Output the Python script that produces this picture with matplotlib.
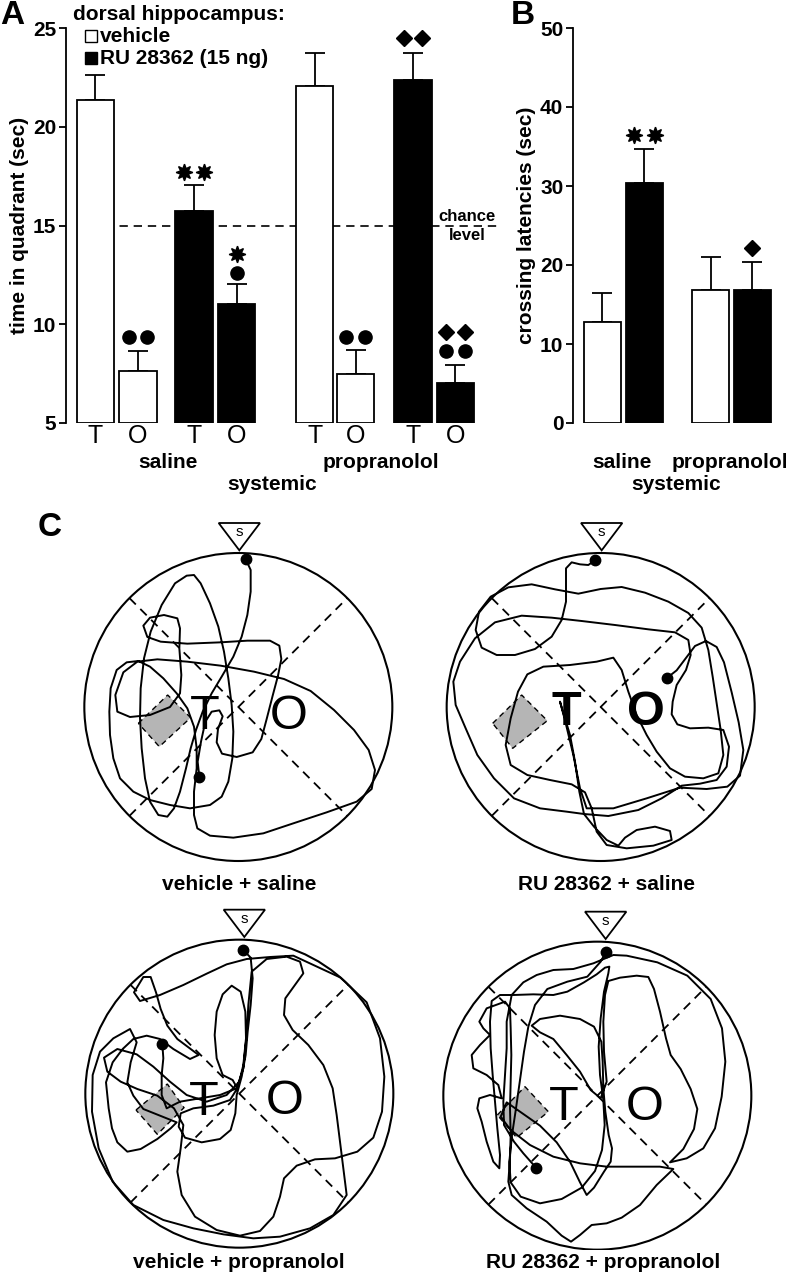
import matplotlib
matplotlib.use("Agg")
import matplotlib.pyplot as plt
from matplotlib.patches import Rectangle, Polygon, Circle

plt.rcParams['font.family'] = ['Liberation Sans', 'DejaVu Sans']

# ---------------- data ----------------
# Panel A : time in quadrant (sec)
a_ticklabels = ['T', 'O', 'T', 'O', 'T', 'O', 'T', 'O']
a_means = [21.35, 7.65, 15.75, 11.05, 22.05, 7.5, 22.35, 7.05]
a_sem = [1.25, 1.0, 1.3, 1.0, 1.7, 1.2, 1.4, 0.9]
a_group = ['vehicle', 'vehicle', 'RU', 'RU', 'vehicle', 'vehicle', 'RU', 'RU']
a_ticks = [5, 10, 15, 20, 25]
chance_level = 15

# Panel B : crossing latencies (sec)
b_means = [12.8, 30.4, 16.8, 16.8]
b_sem = [3.6, 4.3, 4.2, 3.6]
b_group = ['vehicle', 'RU', 'vehicle', 'RU']
b_ticks = [0, 10, 20, 30, 40, 50]

systemic = ['saline', 'propranolol']
panel_c_titles = ['vehicle + saline', 'RU 28362 + saline',
                  'vehicle + propranolol', 'RU 28362 + propranolol']

# swim paths (traced in local 3x-pixel coordinates of each circle box)
path_veh_sal = [(497,132),(512,165),(512,230),(502,300),(485,365),(460,425),(425,485),(395,535),(368,590),(348,645),
    (332,700),(318,760),(300,830),(282,880),(262,905),(235,900),(210,860),(195,790),(185,700),(180,610),(182,520),
    (192,430),(212,350),(245,270),(285,205),(320,182),(342,180),(362,205),(390,265),(415,335),(432,410),(445,490),
    (455,570),(460,650),(457,730),(445,800),(425,845),(390,870),(330,880),(270,870),(210,855),(160,830),(120,790),
    (100,730),(90,660),(88,590),(92,520),(110,465),(140,442),(175,438),(210,455),(250,490),(290,535),(322,580),
    (342,635),(350,700),(350,760),(342,830),(342,900),(352,940),(390,962),(460,968),(550,955),(640,925),(740,892),
    (830,860),(875,822),(885,765),(866,705),(822,645),(762,585),(692,528),(612,492),(522,470),(422,452),(322,440),
    (232,433),(172,440),(130,472),(106,540),(112,590),(150,606),(210,600),(270,576),(300,535),(304,480),(298,400),
    (300,340),(292,310),(252,300),(210,308),(190,332),(202,366),(242,380),(322,386),(422,382),(502,377),(570,377),
    (598,392),(604,432),(594,482),(578,542),(560,612),(544,672),(518,712),(470,726),(426,716),(410,682),(414,642),
    (428,604),(418,586),(395,590),(376,620),(363,680),(353,740),(358,785)]

path_ru_sal = [(466,135),(445,150),(420,148),(395,142),(378,160),(378,210),(378,260),(365,315),(335,365),(285,402),
    (225,420),(170,420),(125,398),(107,345),(117,290),(152,245),(205,217),(275,208),(345,223),(415,236),(482,222),
    (545,216),(615,233),(685,260),(745,294),(785,338),(805,405),(818,485),(830,565),(842,645),(850,720),(835,775),
    (790,790),(735,785),(690,760),(650,710),(620,660),(590,600),(565,530),(545,465),(520,428),(470,440),(390,450),
    (310,455),(262,478),(234,530),(212,610),(197,690),(212,750),(262,780),(330,795),(395,808),(435,832),(455,880),
    (470,950),(500,990),(560,1000),(640,992),(695,975),(690,948),(645,935),(590,945),(555,968),(535,992),(500,975),
    (462,935),(432,897),(380,890),(300,880),(222,850),(162,790),(112,720),(77,640),(47,570),(40,500),(60,440),
    (105,370),(165,322),(245,302),(335,308),(425,318),(525,330),(625,343),(705,352),(745,375),(752,420),(738,465),
    (710,510),(698,560),(695,598),(712,628),(750,640),(805,638),(850,645),(867,695),(860,755),(830,795),(780,806),
    (725,812),(665,850),(595,885),(505,903),(432,897),(418,830),(405,740),(390,660),(372,600),(360,560),(376,620),
    (400,720),(420,820),(440,880),(520,880),(620,850),(720,818),(800,822),(862,815),(900,782),(910,705),(896,622),
    (875,532),(852,442),(830,396),(798,378),(765,393),(737,430),(710,466),(682,488)]

path_veh_pro = [(490,165),(512,188),(518,250),(512,330),(503,410),(497,480),(485,545),(470,600),(466,655),(452,705),
    (420,732),(365,742),(315,728),(296,695),(302,655),(340,640),(400,632),(450,615),(472,580),(458,555),(428,540),
    (410,490),(404,420),(410,350),(428,298),(455,272),(482,290),(496,350),(498,430),(490,510),(478,560),(440,600),
    (380,620),(320,600),(270,560),(220,515),(170,478),(112,462),(72,488),(82,530),(122,560),(172,582),(232,602),
    (282,640),(310,690),(302,760),(292,830),(305,900),(345,965),(410,1005),(480,1022),(540,1008),(580,965),(600,905),
    (612,850),(650,812),(705,793),(765,790),(832,770),(880,728),(906,650),(913,545),(900,430),(860,322),(782,248),
    (692,206),(640,182),(570,186),(500,192),(440,208),(380,236),(310,270),(240,300),(180,318),(162,292),(190,246),
    (212,246),(228,292),(242,342),(262,392),(292,432),(332,462),(356,480),(330,492),(280,462),(240,432),(200,422),
    (160,432),(128,462),(98,502),(78,562),(86,640),(96,700),(112,742),(142,770),(182,762),(232,732),(272,700),
    (290,682),(240,662),(190,642),(160,602),(142,562),(152,502),(170,442),(150,402),(100,430),(60,470),(38,540),
    (36,650),(56,760),(98,860),(160,930),(250,975),(340,1000),(430,1018),(520,1030),(600,1025),(690,1000),
    (760,960),(800,900),(790,820),(780,740),(770,660),(758,580),(730,510),(685,450),(638,405),(612,360),(616,310),
    (645,270),(670,235),(660,200),(620,185),(560,192),(515,230),(505,330),(500,420),(490,520),(470,580),(420,600),
    (360,610),(300,620),(260,640),(245,600),(245,540),(250,490),(247,447)]

path_ru_pro = [(497,172),(482,200),(442,245),(382,260),(322,282),(285,330),(265,395),(252,470),(240,555),(228,640),
    (216,720),(208,800),(212,862),(242,905),(300,925),(365,912),(425,878),(465,828),(486,765),(494,690),(490,615),
    (480,540),(476,455),(482,370),(492,290),(505,235),(508,215),(495,218),(470,238),(432,262),(382,290),(340,300),
    (280,298),(220,300),(180,300),(155,318),(150,380),(152,460),(158,540),(165,620),(172,700),(180,780),(178,820),
    (160,800),(140,740),(125,680),(112,640),(118,610),(150,600),(185,610),(175,570),(140,540),(100,520),(95,480),
    (120,450),(150,420),(130,400),(118,380),(140,340),(195,320),(210,340),(212,400),(214,480),(212,560),(210,640),
    (212,720),(210,790),(205,860),(215,900),(260,940),(320,980),(365,1022),(393,1040),(420,1020),(455,990),
    (500,985),(545,968),(600,930),(650,870),(700,822),(660,815),(580,815),(500,815),(420,805),(340,785),(270,750),
    (212,705),(182,665),(200,622),(240,650),(300,692),(350,742),(390,800),(420,862),(440,900),(462,878),(492,830),
    (512,800),(516,760),(506,720),(496,650),(490,580),(488,500),(484,440),(462,395),(420,372),(360,362),(300,372),
    (275,392),(300,412),(340,432),(380,480),(420,530),(452,585),(482,610),(500,560),(492,470),(490,380),(495,300),
    (505,258),(540,248),(590,242),(625,246),(642,282),(660,350),(678,430),(692,480),(722,522),(752,582),(772,642),
    (762,702),(730,762),(690,802),(740,790),(790,760),(825,700),(845,605),(856,500),(846,400),(812,312),(742,242),
    (652,202),(560,182),(520,180),(460,205),(400,222),(340,225),(290,240),(250,262),(215,300),(200,380),(200,460),
    (195,540),(190,620),(192,690),(222,740),(250,775),(288,818)]

# ---------------- figure ----------------
W, H = 786, 1280
fig = plt.figure(figsize=(W / 100, H / 100), dpi=100)

def box(x0, y0, w, h):
    return [x0 / W, 1 - (y0 + h) / H, w / W, h / H]

# overlay for free text
ov = fig.add_axes([0, 0, 1, 1])
ov.set_xlim(0, W)
ov.set_ylim(H, 0)
ov.axis('off')

TXT = dict(fontsize=15, fontweight='bold')

# ---------------- Panel A ----------------
axA = fig.add_axes(box(66, 28, 410, 395))
a_pos = [0, 1, 2.32, 3.32, 5.16, 6.12, 7.47, 8.47]
bw = 0.88
a_colors = ['white' if g == 'vehicle' else 'black' for g in a_group]
axA.plot([-0.44, 9.45], [chance_level, chance_level], color='black', lw=1.2,
         ls=(0, (5, 3.5)), zorder=1, clip_on=False)
axA.bar(a_pos, [m - 5 for m in a_means], bottom=5, width=bw, color=a_colors,
        edgecolor='black', linewidth=1.3, zorder=3)
axA.errorbar(a_pos, a_means, yerr=[[0] * 8, a_sem], fmt='none', ecolor='black',
             elinewidth=1.3, capsize=7.5, capthick=1.3, zorder=2)
axA.set_xlim(-0.694, 8.953)
axA.set_ylim(5, 25)
axA.set_yticks(a_ticks)
axA.set_yticklabels([str(t) for t in a_ticks], fontsize=15, fontweight='bold')
axA.set_xticks(a_pos)
axA.set_xticklabels(a_ticklabels, fontsize=18)
axA.tick_params(axis='x', length=0, pad=1)
axA.tick_params(axis='y', length=5, width=1.3, direction='out', pad=2)
for s in ['top', 'right', 'bottom']:
    axA.spines[s].set_visible(False)
axA.spines['left'].set_linewidth(1.3)
axA.patch.set_alpha(0)
axA.set_ylabel('time in quadrant (sec)', fontsize=15, fontweight='bold', labelpad=3)
axA.text(8.74, chance_level + 0.1, 'chance', ha='center', va='bottom', fontsize=12,
         fontweight='bold')
axA.text(8.74, chance_level - 0.15, 'level', ha='center', va='top', fontsize=12,
         fontweight='bold')

def sig(ax, x, y, kind, n, dx):
    mk = {'circle': ('o', 9.5), 'diamond': ('D', 8.0), 'star': ((8, 1, 0), 12)}[kind]
    xs = [x] if n == 1 else [x - dx, x + dx]
    ax.plot(xs, [y] * len(xs), ls='none', marker=mk[0], ms=mk[1], color='black',
            clip_on=False, zorder=5)

sig(axA, a_pos[1], 9.33, 'circle', 2, 0.22)
sig(axA, a_pos[2], 17.7, 'star', 2, 0.235)
sig(axA, a_pos[3], 13.55, 'star', 1, 0)
sig(axA, a_pos[3], 12.57, 'circle', 1, 0)
sig(axA, a_pos[5], 9.33, 'circle', 2, 0.22)
sig(axA, a_pos[6], 24.5, 'diamond', 2, 0.22)
sig(axA, a_pos[7], 9.6, 'diamond', 2, 0.22)
sig(axA, a_pos[7], 8.63, 'circle', 2, 0.22)

ov.text(168, 462, systemic[0], ha='center', va='center', **TXT)
ov.text(381, 462, systemic[1], ha='center', va='center', **TXT)
ov.text(272, 484, 'systemic', ha='center', va='center', **TXT)

# legend
ov.text(73, 15, 'dorsal hippocampus:', ha='left', va='center', **TXT)
ov.add_patch(Rectangle((85, 30), 12, 12, facecolor='white', edgecolor='black', lw=1.0))
ov.add_patch(Rectangle((85, 52), 12, 12, facecolor='black', edgecolor='black', lw=1.0))
ov.text(100, 37, 'vehicle', ha='left', va='center', **TXT)
ov.text(100, 59, 'RU 28362 (15 ng)', ha='left', va='center', **TXT)

# panel letters
ov.text(12, 15, 'A', ha='center', va='center', fontsize=24, fontweight='heavy')
ov.text(523, 15, 'B', ha='center', va='center', fontsize=24, fontweight='heavy')
ov.text(50, 528, 'C', ha='center', va='center', fontsize=24, fontweight='heavy')

# ---------------- Panel B ----------------
axB = fig.add_axes(box(573, 28, 209, 395))
b_pos = [0, 1, 2.58, 3.57]
b_colors = ['white' if g == 'vehicle' else 'black' for g in b_group]
axB.bar(b_pos, b_means, width=bw, color=b_colors, edgecolor='black', linewidth=1.3, zorder=3)
axB.errorbar(b_pos, b_means, yerr=[[0] * 4, b_sem], fmt='none', ecolor='black',
             elinewidth=1.3, capsize=7.5, capthick=1.3, zorder=2)
axB.set_xlim(-0.702, 4.274)
axB.set_ylim(0, 50)
axB.set_yticks(b_ticks)
axB.set_yticklabels([str(t) for t in b_ticks], fontsize=15, fontweight='bold')
axB.set_xticks([])
axB.tick_params(axis='y', length=5, width=1.3, direction='out', pad=2)
for s in ['top', 'right', 'bottom']:
    axB.spines[s].set_visible(False)
axB.spines['left'].set_linewidth(1.3)
axB.patch.set_alpha(0)
axB.set_ylabel('crossing latencies (sec)', fontsize=15, fontweight='bold', labelpad=3)
sig(axB, b_pos[1], 36.5, 'star', 2, 0.24)
sig(axB, b_pos[3], 22.2, 'diamond', 1, 0)

ov.text(622, 462, systemic[0], ha='center', va='center', **TXT)
ov.text(730, 462, systemic[1], ha='center', va='center', **TXT)
ov.text(676, 484, 'systemic', ha='center', va='center', **TXT)

# ---------------- Panel C ----------------
circles = [
    dict(box=(80, 515, 320, 355), c=(475, 576), tx=478, path=path_veh_sal,
         plat=[(175, 625), (263, 540), (332, 608), (238, 695)], T=(375, 605), O=(625, 605), bold=False),
    dict(box=(440, 515, 322, 355), c=(482, 576), tx=485, path=path_ru_sal,
         plat=[(158, 625), (245, 540), (322, 617), (218, 700)], T=(380, 592), O=(618, 592), bold=True),
    dict(box=(80, 895, 320, 355), c=(478, 596), tx=493, path=path_veh_pro,
         plat=[(168, 645), (262, 567), (312, 638), (232, 718)], T=(370, 622), O=(615, 618), bold=False),
    dict(box=(440, 895, 322, 355), c=(472, 602), tx=497, path=path_ru_pro,
         plat=[(172, 660), (255, 575), (325, 650), (230, 728)], T=(370, 638), O=(615, 638), bold=False),
]
label_pos = [(239, 885), (606, 885), (239, 1262), (603, 1262)]
R = 462

for i, cd in enumerate(circles):
    x0, y0, w, h = cd['box']
    ax = fig.add_axes(box(x0, y0, w, h))
    ax.set_xlim(0, 3 * w)
    ax.set_ylim(3 * h, 0)
    ax.axis('off')
    cx, cy = cd['c']
    ax.add_patch(Circle((cx, cy), R, facecolor='none', edgecolor='black', lw=1.5, zorder=3))
    d = R * 0.7071
    ax.plot([cx - d, cx + d], [cy - d, cy + d], color='black', lw=1.3, ls=(0, (5, 3.5)), zorder=2)
    ax.plot([cx - d, cx + d], [cy + d, cy - d], color='black', lw=1.3, ls=(0, (5, 3.5)), zorder=2)
    ax.add_patch(Polygon(cd['plat'], closed=True, facecolor='#b5b5b5', edgecolor='black',
                         lw=1.0, ls=(0, (4, 3)), zorder=1))
    fw = 'bold' if cd['bold'] else 'normal'
    ax.text(cd['T'][0], cd['T'][1], 'T', ha='center', va='center', fontsize=35, fontweight=fw, zorder=4)
    ax.text(cd['O'][0], cd['O'][1], 'O', ha='center', va='center', fontsize=35, fontweight=fw, zorder=4)
    px = [p[0] for p in cd['path']]
    py = [p[1] for p in cd['path']]
    ax.plot(px, py, color='black', lw=1.4, solid_joinstyle='round', solid_capstyle='round', zorder=5)
    ax.plot([px[0], px[-1]], [py[0], py[-1]], ls='none', marker='o', ms=7.5, color='black', zorder=6)
    top = cy - R
    tx = cd['tx']
    ax.add_patch(Polygon([(tx - 62, top - 90), (tx + 62, top - 90), (tx, top - 8)], closed=True,
                         facecolor='white', edgecolor='black', lw=1.3, zorder=6, clip_on=False))
    ax.text(tx, top - 62, 's', ha='center', va='center', fontsize=11, zorder=7)
    ov.text(label_pos[i][0], label_pos[i][1], panel_c_titles[i], ha='center', va='center', **TXT)

fig.savefig('out.png', dpi=100)
